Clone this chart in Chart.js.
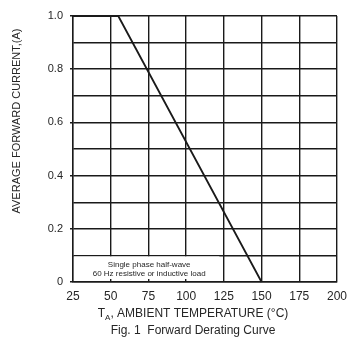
<!DOCTYPE html>
<html>
<head>
<meta charset="utf-8">
<script src="https://cdn.jsdelivr.net/npm/chart.js@4/dist/chart.umd.min.js"></script>
<style>
html,body{margin:0;padding:0;background:#fff;}
#wrap{width:358px;height:345px;position:relative;}
</style>
</head>
<body>
<div id="wrap"><canvas id="c" width="358" height="345"></canvas></div>
<script>
// ---- data ----
const temperatures = [25, 55, 150];          // °C
const currents = [1.0, 1.0, 0.0];            // A
const xTickValues = [25, 50, 75, 100, 125, 150, 175, 200];
const yLabelValues = [0, 0.2, 0.4, 0.6, 0.8, 1.0];
const yTitle = 'AVERAGE FORWARD CURRENT,(A)';
const xTitleMain = 'T';
const xTitleSub = 'A';
const xTitleRest = ', AMBIENT TEMPERATURE (\u00B0C)';
const caption = 'Fig. 1  Forward Derating Curve';
const noteLines = ['Single phase half-wave', '60 Hz resistive or inductive load'];

const FONT = '"Liberation Sans", Arial, sans-serif';
const INK = '#1a1a1a';
const TXT = '#262626';

function isLabeled(v){ return yLabelValues.some(l => Math.abs(l - v) < 1e-6); }

const textPlugin = {
  id: 'texts',
  beforeDatasetsDraw(chart){
    const {ctx, scales:{x, y}} = chart;
    // white box behind the note
    const x0 = x.getPixelForValue(25) + 1, x1 = x.getPixelForValue(122);
    const y0 = y.getPixelForValue(0.1) + 1, y1 = y.getPixelForValue(0) - 3;
    ctx.save();
    ctx.fillStyle = '#fff';
    ctx.fillRect(x0, y0, x1 - x0, y1 - y0);
    ctx.restore();
  },
  afterDraw(chart){
    const {ctx, scales:{x, y}, chartArea} = chart;
    ctx.save();
    ctx.fillStyle = TXT;
    // note
    ctx.font = '8px ' + FONT;
    ctx.textAlign = 'center';
    ctx.textBaseline = 'middle';
    const nx = x.getPixelForValue(75.5);
    ctx.fillText(noteLines[0], nx, y.getPixelForValue(0.066));
    ctx.fillText(noteLines[1], nx, y.getPixelForValue(0.031));
    // y title
    ctx.save();
    ctx.translate(17, 121);
    ctx.rotate(-Math.PI/2);
    ctx.font = '11px ' + FONT;
    ctx.textAlign = 'center';
    ctx.textBaseline = 'middle';
    ctx.fillText(yTitle, 0, 0);
    ctx.restore();
    // x title with subscript
    const big = '12px ' + FONT, small = '8px ' + FONT;
    ctx.textAlign = 'left';
    ctx.textBaseline = 'alphabetic';
    ctx.font = big; const w1 = ctx.measureText(xTitleMain).width;
    ctx.font = small; const w2 = ctx.measureText(xTitleSub).width;
    ctx.font = big; const w3 = ctx.measureText(xTitleRest).width;
    const cx = 193, base = chartArea.bottom + 35;
    let sx = cx - (w1 + w2 + w3) / 2;
    ctx.font = big; ctx.fillText(xTitleMain, sx, base); sx += w1;
    ctx.font = small; ctx.fillText(xTitleSub, sx, base + 3); sx += w2;
    ctx.font = big; ctx.fillText(xTitleRest, sx, base);
    // caption
    ctx.textAlign = 'center';
    ctx.textBaseline = 'middle';
    ctx.font = '12px ' + FONT;
    ctx.fillText(caption, cx, chartArea.bottom + 49);
    ctx.restore();
  }
};

new Chart(document.getElementById('c'), {
  type: 'line',
  data: {
    datasets: [{
      data: temperatures.map((t, i) => ({x: t, y: currents[i]})),
      borderColor: INK,
      borderWidth: 1.8,
      pointRadius: 0,
      tension: 0,
      fill: false,
      clip: false
    }]
  },
  options: {
    responsive: false,
    animation: false,
    devicePixelRatio: 1,
    layout: { padding: { top: 16, right: 21, left: 0, bottom: 0 } },
    plugins: { legend: { display: false }, tooltip: { enabled: false }, title: { display: false } },
    scales: {
      x: {
        type: 'linear',
        min: 25, max: 200,
        afterFit: s => { s.height = 63; },
        afterBuildTicks: s => { s.ticks = xTickValues.map(v => ({value: v})); },
        ticks: { color: TXT, font: { family: FONT, size: 12 }, padding: 7, autoSkip: false, maxRotation: 0 },
        grid: { color: INK, lineWidth: 1.4, drawTicks: false },
        border: { display: true, color: INK, width: 1.4 }
      },
      y: {
        type: 'linear',
        min: 0, max: 1,
        afterFit: s => { s.width = 73; },
        ticks: {
          stepSize: 0.1,
          autoSkip: false,
          color: TXT,
          font: { family: FONT, size: 11 },
          padding: 7,
          callback: v => isLabeled(v) ? (Math.abs(v) < 1e-6 ? '0' : v.toFixed(1)) : ''
        },
        grid: {
          color: INK, lineWidth: 1.4, drawTicks: true, tickLength: 3,
          tickColor: c => (c.tick && isLabeled(c.tick.value)) ? INK : 'rgba(0,0,0,0)'
        },
        border: { display: true, color: INK, width: 1.4 }
      }
    }
  },
  plugins: [textPlugin]
});
</script>
</body>
</html>
